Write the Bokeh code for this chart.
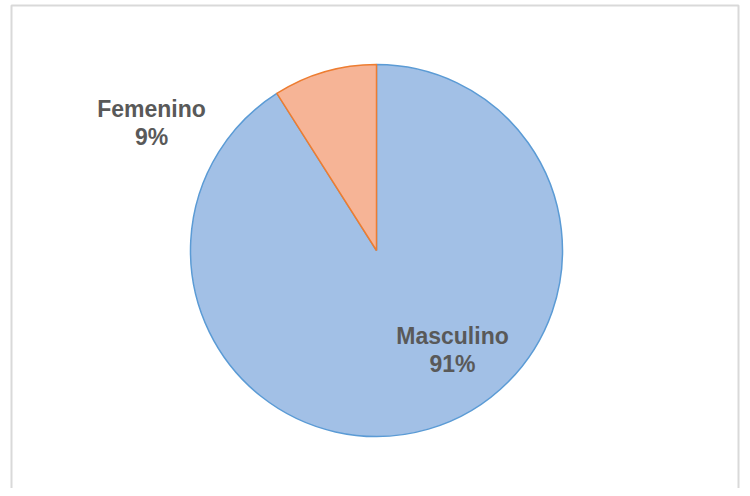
import math
from bokeh.plotting import figure
from bokeh.models import ColumnDataSource
from bokeh.core.properties import value
from bokeh.embed import file_html
from bokeh.resources import INLINE

categories = ["Masculino", "Femenino"]
percents = [91, 9]
fill_colors = ["#A2C0E6", "#F6B496"]
line_colors = ["#5B9BD5", "#ED7D31"]

# angles: Femenino starts at 12 o'clock going counter-clockwise, Masculino takes the rest
total = sum(percents)
fem_span = percents[1] / total * 2 * math.pi
start = [math.pi / 2 + fem_span, math.pi / 2]
end = [math.pi / 2 + 2 * math.pi, math.pi / 2 + fem_span]

src = ColumnDataSource(dict(cat=categories, pct=percents, fill=fill_colors,
                            line=line_colors, start=start, end=end))

W, H = 740, 488
p = figure(width=W, height=H, x_range=(-376, 364), y_range=(-238, 250),
           output_backend="svg", toolbar_location=None, min_border=0)
p.axis.visible = False
p.grid.visible = False
p.background_fill_color = "white"
p.border_fill_color = "white"
p.outline_line_color = None

# chart-area border (bottom edge lies below the visible page)
p.multi_line(xs=[[-365, -365, 362, 362]], ys=[[-300, 245, 245, -300]],
             line_color="#D9D9D9", line_width=2)

p.wedge(x=0, y=0, radius=186, start_angle="start", end_angle="end",
        fill_color="fill", line_color="line", line_width=1.5, source=src)

# labels
lab_x = [76, -225]
lab_y = [-85, 142]
pct_txt = [f"{v}%" for v in percents]
lsrc = ColumnDataSource(dict(x=lab_x, y=lab_y, y2=[v - 28 for v in lab_y],
                             name=categories, pct=pct_txt))
for col, ycol in (("name", "y"), ("pct", "y2")):
    p.text(x="x", y=ycol, text=col, source=lsrc, text_align="center",
           text_baseline="middle", text_font=value("Liberation Sans"),
           text_font_style="bold", text_font_size="23px", text_color="#595959")

open("out.html", "w").write(file_html(p, INLINE))
